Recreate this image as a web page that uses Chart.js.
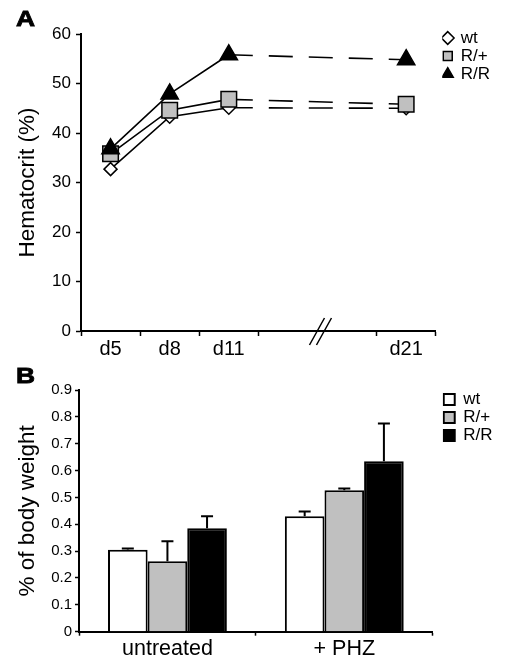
<!DOCTYPE html>
<html><head><meta charset="utf-8">
<script src="https://cdn.jsdelivr.net/npm/chart.js@4/dist/chart.umd.min.js"></script>
<style>
html,body{margin:0;padding:0;background:#fff;}
#wrap{position:relative;width:510px;height:669px;overflow:hidden;}
#ca{position:absolute;left:0;top:0;}
#cb{position:absolute;left:0;top:362px;}
</style></head><body>
<div id="wrap"><canvas id="ca" width="510" height="362"></canvas><canvas id="cb" width="510" height="307"></canvas></div>
<script>
const FONT = '"Liberation Sans", Arial, Helvetica, sans-serif';

// ---- Panel A data ----
const daysA = ['d5', 'd8', 'd11', '', '', 'd21'];
const hctWt = [32.7, 43.3, 45.1, null, null, 45.0];
const hctRp = [35.8, 44.6, 46.8, null, null, 45.8];
const hctRR = [36.8, 47.9, 55.8, null, null, 54.8];
const yTicksA = [0, 10, 20, 30, 40, 50, 60];

// ---- Panel B data ----
const groupsB = ['untreated', '+ PHZ'];
const bwWt = [0.305, 0.43];
const bwRp = [0.262, 0.527];
const bwRR = [0.385, 0.635];
const errWt = [0.005, 0.018];
const errRp = [0.075, 0.006];
const errRR = [0.045, 0.14];
const yTicksB = [0, 0.1, 0.2, 0.3, 0.4, 0.5, 0.6, 0.7, 0.8, 0.9];

const panelLabel = (txt, x, y) => ({
  id: 'panelLabel',
  afterDraw(chart) {
    const c = chart.ctx;
    c.save();
    c.fillStyle = '#000';
    c.strokeStyle = '#000';
    c.lineWidth = 0.8;
    c.font = 'bold 22px ' + FONT;
    c.textBaseline = 'alphabetic';
    c.translate(x, y);
    c.scale(1.2, 1);
    c.fillText(txt, 0, 0);
    c.strokeText(txt, 0, 0);
    c.restore();
  }
});

const shiftLegend = (dx, dy) => ({
  id: 'shiftLegend',
  afterLayout(chart) {
    const l = chart.legend;
    l.left += dx; l.right += dx; l.top += dy; l.bottom += dy;
  }
});

const axisBreak = {
  id: 'axisBreak',
  afterDraw(chart) {
    const xs = chart.scales.x;
    const bx = (xs.getPixelForTick(3) + xs.getPixelForTick(4)) / 2 + 3;
    const by = chart.chartArea.bottom;
    const c = chart.ctx;
    c.save();
    c.strokeStyle = '#000';
    c.lineWidth = 1.5;
    c.beginPath();
    c.moveTo(bx - 11, by + 14); c.lineTo(bx + 4, by - 13);
    c.moveTo(bx - 4, by + 14); c.lineTo(bx + 11, by - 13);
    c.stroke();
    c.restore();
  }
};

const errorBars = {
  id: 'errorBars',
  afterDatasetsDraw(chart) {
    const ys = chart.scales.y;
    const c = chart.ctx;
    chart.data.datasets.forEach((ds, i) => {
      const meta = chart.getDatasetMeta(i);
      meta.data.forEach((bar, j) => {
        const yt = ys.getPixelForValue(ds.data[j] + ds.errors[j]);
        c.save();
        c.strokeStyle = '#000';
        c.lineWidth = 2;
        c.beginPath();
        c.moveTo(bar.x, bar.y); c.lineTo(bar.x, yt);
        c.moveTo(bar.x - 6, yt); c.lineTo(bar.x + 6, yt);
        c.stroke();
        c.restore();
      });
    });
  }
};

const dashSeg = { borderDash: ctx => ctx.p0DataIndex >= 2 ? [24, 16] : undefined };
const lineDs = (label, data, style, radius, fill, order) => ({
  label, data, order,
  pointStyle: style, pointRadius: radius, pointHoverRadius: radius,
  pointBackgroundColor: fill, pointBorderColor: '#000', pointBorderWidth: 1.5,
  borderColor: '#000', backgroundColor: fill, borderWidth: 1.6,
  spanGaps: true, segment: dashSeg
});

new Chart(document.getElementById('ca'), {
  type: 'line',
  data: {
    labels: daysA,
    datasets: [
      lineDs('wt', hctWt, 'rectRot', 6.5, '#ffffff', 2),
      lineDs('R/+', hctRp, 'rect', 11, '#c0c0c0', 1),
      lineDs('R/R', hctRR, 'triangle', 10, '#000000', 0)
    ]
  },
  options: {
    responsive: false, animation: false, devicePixelRatio: 1,
    layout: { padding: { top: 34, right: 16.5, bottom: 0, left: 0 } },
    plugins: {
      legend: {
        position: 'right', align: 'start',
        labels: {
          usePointStyle: true, boxWidth: 9, boxHeight: 9, padding: 1, color: '#000',
          font: { size: 17, family: FONT },
          sort: (a, b) => a.datasetIndex - b.datasetIndex
        }
      },
      tooltip: { enabled: false }
    },
    scales: {
      x: {
        offset: true,
        grid: { offset: true, drawOnChartArea: false, drawTicks: true, tickLength: 5, tickWidth: 1.5,
                tickColor: c => c.index === 4 ? 'rgba(0,0,0,0)' : '#000' },
        border: { color: '#000', width: 2 },
        ticks: { autoSkip: false, maxRotation: 0, padding: 3, color: '#000', font: { size: 20, lineHeight: 1.0, family: FONT } }
      },
      y: {
        min: 0, max: 60,
        afterFit: s => { s.width = 81; },
        afterBuildTicks: s => { s.ticks = yTicksA.map(v => ({ value: v })); },
        ticks: { padding: 5, color: '#000', font: { size: 17, family: FONT } },
        grid: { drawOnChartArea: false, tickLength: 5, tickWidth: 1.5, tickColor: '#000' },
        border: { color: '#000', width: 2 },
        title: { display: true, text: 'Hematocrit (%)', color: '#000', font: { size: 22.5, family: FONT }, padding: { top: 14, bottom: 0 } }
      }
    }
  },
  plugins: [axisBreak, shiftLegend(6.5, -5.5), panelLabel('A', 16, 26)]
});

const barDs = (label, data, fill, errors) => ({
  label, data, errors, backgroundColor: fill, borderColor: '#000', borderWidth: 2, borderSkipped: 'bottom'
});

new Chart(document.getElementById('cb'), {
  type: 'bar',
  data: {
    labels: groupsB,
    datasets: [
      barDs('wt', bwWt, '#ffffff', errWt),
      barDs('R/+', bwRp, '#c0c0c0', errRp),
      barDs('R/R', bwRR, '#000000', errRR)
    ]
  },
  options: {
    responsive: false, animation: false, devicePixelRatio: 1,
    datasets: { bar: { barPercentage: 1, categoryPercentage: 0.672 } },
    layout: { padding: { top: 28, right: 17.5, bottom: 5.8, left: 0 } },
    plugins: {
      legend: {
        position: 'right', align: 'start',
        labels: { boxWidth: 11, boxHeight: 11, padding: 1, color: '#000', font: { size: 17, family: FONT } }
      },
      tooltip: { enabled: false }
    },
    scales: {
      x: {
        grid: { offset: true, drawOnChartArea: false, drawTicks: true, tickLength: 4, tickWidth: 1.5, tickColor: '#000' },
        border: { color: '#000', width: 2 },
        ticks: { padding: 3, color: '#000', font: { size: 21.5, lineHeight: 1.0, family: FONT } }
      },
      y: {
        min: 0, max: 0.9,
        afterFit: s => { s.width = 79; },
        afterBuildTicks: s => { s.ticks = yTicksB.map(v => ({ value: v })); },
        ticks: { padding: 3, color: '#000', font: { size: 15, family: FONT }, callback: v => (v === 0 ? '0' : v.toFixed(1)) },
        grid: { drawOnChartArea: false, tickLength: 4, tickWidth: 1.5, tickColor: '#000' },
        border: { color: '#000', width: 2 },
        title: { display: true, text: '% of body weight', color: '#000', font: { size: 22.5, family: FONT }, padding: { top: 14, bottom: 0 } }
      }
    }
  },
  plugins: [errorBars, shiftLegend(10, 0), panelLabel('B', 16, 21)]
});
</script>
</body></html>
